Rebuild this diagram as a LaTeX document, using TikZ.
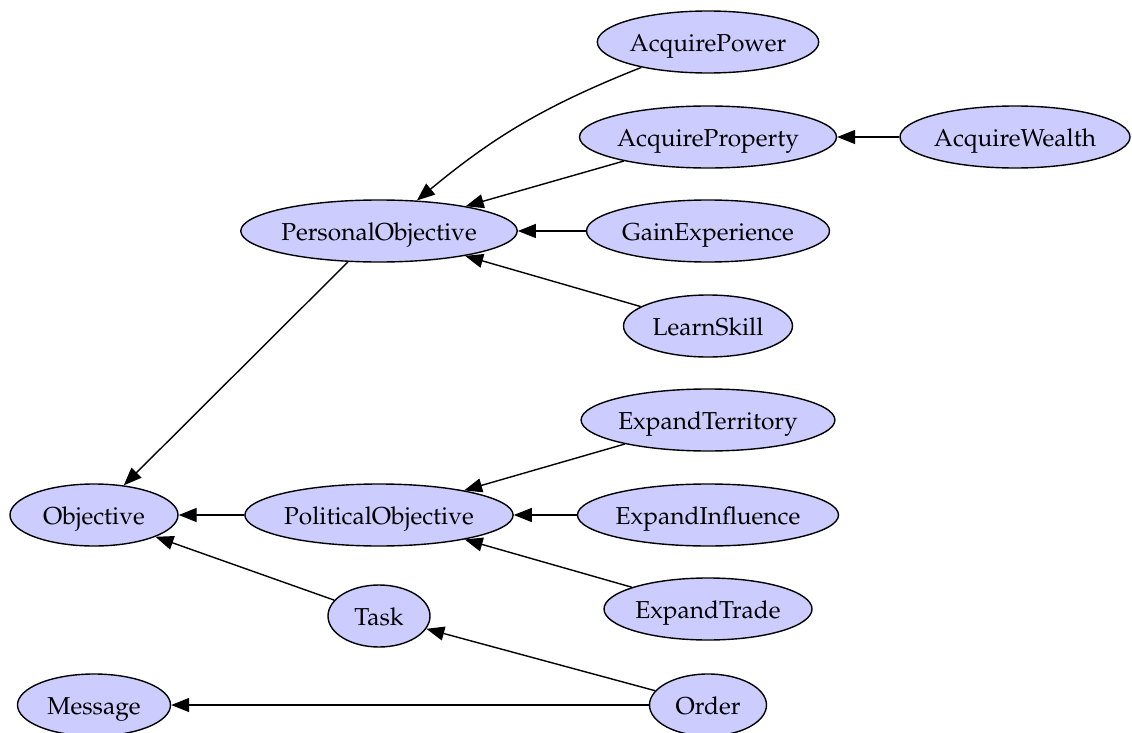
\documentclass[tikz,border=0pt]{standalone}
\usepackage[T1]{fontenc}
\usepackage{mathpazo}
\usetikzlibrary{shapes.geometric,arrows.meta}
\definecolor{nodefill}{RGB}{204,204,255}
\tikzset{
  obj/.style={ellipse,draw=black,line width=1.4pt,fill=nodefill,inner sep=0pt,
    minimum height=62pt,text height=19pt,text depth=0pt,
    font=\fontencoding{T1}\fontfamily{ppl}\fontsize{24.5}{29}\selectfont},
  arr/.style={-{Triangle[length=18pt,width=14pt]},line width=1.4pt,black}
}
\begin{document}
\begin{tikzpicture}[x=1pt,y=-1pt]
\useasboundingbox (0,0) rectangle (1132,733);
\node[obj,minimum width=217pt] (AcquirePower) at (708,42) {AcquirePower};
\node[obj,minimum width=251pt] (AcquireProperty) at (708,137) {AcquireProperty};
\node[obj,minimum width=230pt] (AcquireWealth) at (1015,137) {AcquireWealth};
\node[obj,minimum width=274pt] (PersonalObjective) at (379,231) {PersonalObjective};
\node[obj,minimum width=243pt] (GainExperience) at (708,231) {GainExperience};
\node[obj,minimum width=169pt] (LearnSkill) at (708,326) {LearnSkill};
\node[obj,minimum width=249pt] (ExpandTerritory) at (708,420) {ExpandTerritory};
\node[obj,minimum width=168pt] (Objective) at (94,515) {Objective};
\node[obj,minimum width=268pt] (PoliticalObjective) at (379,515) {PoliticalObjective};
\node[obj,minimum width=253pt] (ExpandInfluence) at (708,515) {ExpandInfluence};
\node[obj,minimum width=208pt] (ExpandTrade) at (708,609) {ExpandTrade};
\node[obj,minimum width=102pt] (Task) at (379,616) {Task};
\node[obj,minimum width=153pt] (Message) at (94,705) {Message};
\node[obj,minimum width=117pt] (Order) at (708,705) {Order};

\draw[arr] (AcquirePower) to[bend right=9] (PersonalObjective);
\draw[arr] (AcquireProperty) -- (PersonalObjective);
\draw[arr] (AcquireWealth) -- (AcquireProperty);
\draw[arr] (GainExperience) -- (PersonalObjective);
\draw[arr] (LearnSkill) -- (PersonalObjective);
\draw[arr] (PersonalObjective) -- (Objective);
\draw[arr] (PoliticalObjective) -- (Objective);
\draw[arr] (ExpandTerritory) -- (PoliticalObjective);
\draw[arr] (ExpandInfluence) -- (PoliticalObjective);
\draw[arr] (ExpandTrade) -- (PoliticalObjective);
\draw[arr] (Task) -- (Objective);
\draw[arr] (Order) -- (Task);
\draw[arr] (Order) -- (Message);
\end{tikzpicture}
\end{document}
